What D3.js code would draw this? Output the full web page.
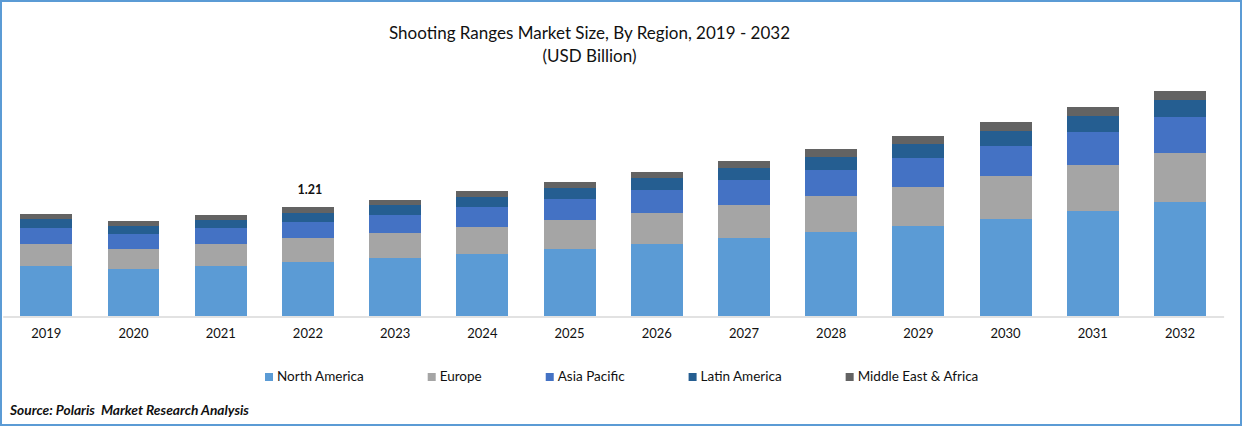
<!DOCTYPE html>
<html>
<head>
<meta charset="utf-8">
<script src="https://cdn.jsdelivr.net/npm/d3@7"></script>
<style>
    html, body { margin: 0; padding: 0; background: #fff; overflow: hidden; }
    svg { display: block; font-family: Lato, sans-serif; }
</style>
</head>
<body>
<svg id="chart-svg" width="1242" height="426"></svg>
<script>
const years = ["2019", "2020", "2021", "2022", "2023", "2024", "2025", "2026", "2027", "2028", "2029", "2030", "2031", "2032"];
const regions = ["North America", "Europe", "Asia Pacific", "Latin America", "Middle East & Africa"];
const northAmerica = [0.555, 0.522, 0.555, 0.600, 0.644, 0.688, 0.744, 0.799, 0.866, 0.933, 0.999, 1.077, 1.166, 1.266];
const europe = [0.244, 0.222, 0.244, 0.266, 0.278, 0.300, 0.322, 0.344, 0.366, 0.400, 0.433, 0.477, 0.511, 0.544];
const asiaPacific = [0.178, 0.167, 0.178, 0.178, 0.200, 0.222, 0.233, 0.255, 0.278, 0.289, 0.322, 0.333, 0.366, 0.400];
const latinAmerica = [0.100, 0.089, 0.089, 0.100, 0.111, 0.111, 0.122, 0.133, 0.133, 0.144, 0.155, 0.167, 0.178, 0.189];
const middleEast = [0.056, 0.056, 0.056, 0.067, 0.056, 0.067, 0.067, 0.067, 0.078, 0.089, 0.089, 0.100, 0.100, 0.100];
const colors = ["#5b9bd5", "#a5a5a5", "#4472c4", "#255e91", "#636363"];
const labelYear = "2022";
const labelValue = "1.21";

const size = { width: 1242, height: 426, baseline: 316 };
const svg = d3.select("#chart-svg");

// one row per year, keyed by region, for d3.stack
const seriesValues = [northAmerica, europe, asiaPacific, latinAmerica, middleEast];
const rows = years.map((year, i) => {
    const row = { year: year };
    regions.forEach((r, j) => { row[r] = seriesValues[j][i]; });
    return row;
});
const stacked = d3.stack().keys(regions)(rows);

const xScale = d3.scaleBand()
    .domain(years)
    .range([2.7, 1223.6])
    .paddingInner(0.404)
    .paddingOuter(0.202);

const yScale = d3.scaleLinear()
    .domain([0, 2.5])
    .range([size.baseline, size.baseline - 2.5 * 90.08]);

svg.append("g")
    .selectAll("g")
    .data(stacked)
    .join("g")
    .attr("fill", (d, i) => colors[i])
    .selectAll("rect")
    .data(d => d)
    .join("rect")
    .attr("x", d => xScale(d.data.year))
    .attr("y", d => Math.round(yScale(d[1])))
    .attr("width", xScale.bandwidth())
    .attr("height", d => Math.round(yScale(d[0])) - Math.round(yScale(d[1])))
    .attr("shape-rendering", "crispEdges");

// x axis
const axis = svg.append("g")
    .attr("transform", `translate(0, ${size.baseline + 0.5})`)
    .call(d3.axisBottom(xScale).tickSize(0).tickPadding(12));
axis.select(".domain").attr("stroke", "#d9d9d9").attr("stroke-width", 1.5);
axis.selectAll("text")
    .attr("font-family", "Lato, sans-serif")
    .attr("font-size", 13)
    .attr("fill", "#111");

// value label above the 2022 bar
svg.append("text")
    .attr("x", xScale(labelYear) + xScale.bandwidth() / 2 + 2)
    .attr("y", 194)
    .attr("text-anchor", "middle")
    .attr("font-size", 12.5)
    .attr("font-weight", "bold")
    .attr("fill", "#111")
    .text(labelValue);

// title
svg.append("text")
    .attr("x", 589.5)
    .attr("y", 39)
    .attr("text-anchor", "middle")
    .attr("font-size", 17)
    .attr("fill", "#111")
    .text("Shooting Ranges Market Size, By Region, 2019 - 2032");
svg.append("text")
    .attr("x", 589.5)
    .attr("y", 62)
    .attr("text-anchor", "middle")
    .attr("font-size", 17)
    .attr("fill", "#111")
    .text("(USD Billion)");

// legend, laid out left to right with an even gap
let legendX = 265;
regions.forEach((r, i) => {
    svg.append("rect")
        .attr("x", legendX)
        .attr("y", 373)
        .attr("width", 8)
        .attr("height", 8)
        .attr("fill", colors[i]);
    const label = svg.append("text")
        .attr("x", legendX + 12)
        .attr("y", 381)
        .attr("font-size", 13.5)
        .attr("fill", "#111")
        .text(r);
    legendX += 12 + label.node().getComputedTextLength() + 64;
});

// source note, the double space is in the original
svg.append("text")
    .attr("x", 10)
    .attr("y", 415)
    .attr("font-size", 13.75)
    .attr("font-weight", "bold")
    .attr("font-style", "italic")
    .attr("fill", "#111")
    .style("white-space", "pre")
    .text("Source: Polaris  Market Research Analysis");

// border around the whole picture
svg.append("rect")
    .attr("x", 1)
    .attr("y", 1)
    .attr("width", size.width - 2)
    .attr("height", size.height - 2)
    .attr("fill", "none")
    .attr("stroke", "#5b9bd5")
    .attr("stroke-width", 2);
</script>
</body>
</html>
